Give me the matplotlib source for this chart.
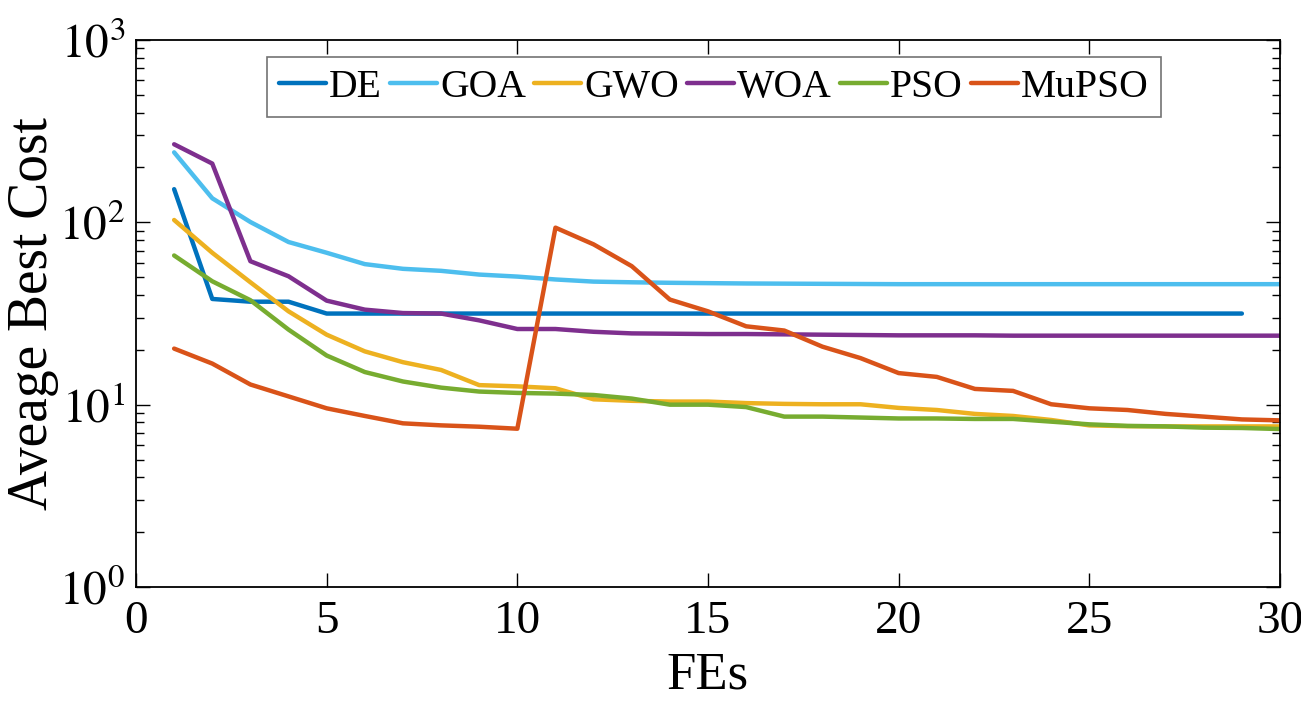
import matplotlib
matplotlib.use("Agg")
import matplotlib.pyplot as plt
from matplotlib.ticker import LogLocator, FixedLocator, NullLocator

plt.rcParams['font.family'] = ['Liberation Serif', 'DejaVu Serif']
plt.rcParams['mathtext.fontset'] = 'stix'

iters = list(range(1, 31))
de_x = list(range(1, 30))

DE = [152, 38.0, 36.7, 36.7, 31.6] + [31.6] * 24
GOA = [242, 135.5, 100.4, 78, 68.1, 59, 55.6, 54.2, 51.7, 50.4,
       48.6, 47.3, 46.9, 46.6, 46.4, 46.2, 46.1, 46.0, 45.9, 45.8,
       45.8, 45.8, 45.8, 45.8, 45.8, 45.8, 45.8, 45.8, 45.8, 45.8]
GWO = [103, 68.1, 46.9, 32.5, 24.2, 19.6, 17.1, 15.5, 12.8, 12.6,
       12.3, 10.7, 10.5, 10.4, 10.4, 10.2, 10.1, 10.05, 10.05, 9.6,
       9.35, 8.9, 8.67, 8.24, 7.7, 7.62, 7.6, 7.6, 7.6, 7.6]
WOA = [268, 210, 61.2, 50.6, 37.2, 33.2, 31.8, 31.6, 29.0, 26.0,
       26.0, 25.1, 24.6, 24.5, 24.4, 24.4, 24.3, 24.2, 24.1, 24.0,
       24.0, 24.0, 23.9, 23.9, 23.9, 23.9, 23.9, 23.9, 23.9, 23.9]
PSO = [65.8, 47.5, 37.4, 25.8, 18.6, 15.1, 13.4, 12.4, 11.8, 11.6,
       11.5, 11.3, 10.8, 10.0, 10.0, 9.7, 8.6, 8.6, 8.5, 8.4,
       8.4, 8.35, 8.35, 8.07, 7.8, 7.65, 7.6, 7.48, 7.45, 7.35]
MuPSO = [20.3, 16.8, 12.9, 11.1, 9.55, 8.67, 7.9, 7.7, 7.57, 7.38,
         93.5, 75.7, 57.5, 37.7, 32.5, 26.9, 25.5, 20.8, 18.0, 14.9,
         14.2, 12.2, 11.9, 10.05, 9.55, 9.35, 8.9, 8.6, 8.3, 8.2]

names = ['DE', 'GOA', 'GWO', 'WOA', 'PSO', 'MuPSO']
colors = ['#0072BD', '#4DBEEE', '#EDB120', '#7E2F8E', '#77AC30', '#D95319']
series = [(de_x, DE), (iters, GOA), (iters, GWO), (iters, WOA), (iters, PSO), (iters, MuPSO)]

xticks = [0, 5, 10, 15, 20, 25, 30]
xticklabels = ['0', '5', '10', '15', '20', '25', '30']
yticks = [1, 10, 100, 1000]
yticklabels = [r'$\mathrm{10^{0}}$', r'$\mathrm{10^{1}}$', r'$\mathrm{10^{2}}$', r'$\mathrm{10^{3}}$']

fig = plt.figure(figsize=(13.01, 7.13), dpi=100)
ax = fig.add_axes([136/1301, 1 - 587/713, (1280-136)/1301, (587-40)/713])

for (x, y), n, c in zip(series, names, colors):
    ax.plot(x, y, color=c, lw=3.2, label=n, solid_capstyle='round', solid_joinstyle='round')

ax.set_yscale('log')
ax.set_ylim(1, 1000)
ax.set_xlim(0, 30)
ax.xaxis.set_major_locator(FixedLocator(xticks))
ax.set_xticklabels(xticklabels)
ax.xaxis.set_minor_locator(NullLocator())
ax.yaxis.set_major_locator(FixedLocator(yticks))
ax.set_yticklabels(yticklabels)
ax.yaxis.set_minor_locator(LogLocator(base=10, subs=range(2, 10), numticks=10))

ax.tick_params(which='both', direction='in', top=True, right=True, width=1.0, labelsize=34)
ax.tick_params(which='major', length=10)
ax.tick_params(which='minor', length=6)
ax.tick_params(axis='x', pad=10)
ax.tick_params(axis='y', pad=8)
for s in ax.spines.values():
    s.set_linewidth(1.3)

ax.set_xlabel('FEs', fontsize=38, labelpad=6)
ax.set_ylabel('Aveage Best Cost', fontsize=40, labelpad=0)

leg = ax.legend(loc='upper left', bbox_to_anchor=(0.1145, 0.9695), ncol=6, fontsize=28.5,
                handlelength=1.19, handletextpad=0.08, columnspacing=0.2,
                borderpad=0.3, borderaxespad=0, frameon=True, fancybox=False)
leg.get_frame().set_edgecolor('#505050')
leg.get_frame().set_linewidth(1.2)

fig.savefig('out.png', dpi=100)
